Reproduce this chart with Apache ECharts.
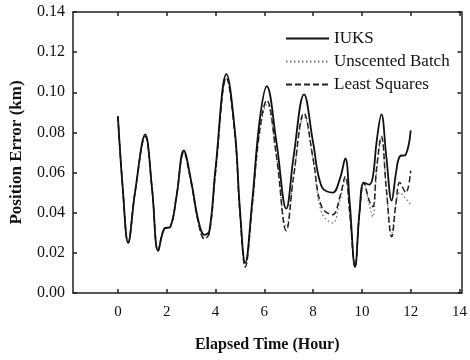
<!DOCTYPE html>
<html><head><meta charset="utf-8">
<script src="https://cdn.jsdelivr.net/npm/echarts@6/dist/echarts.min.js"></script>
<style>html,body{margin:0;padding:0;background:#fff}#c{width:470px;height:360px}</style>
</head><body><div id="c"></div>
<script>
const times = [0, 0.2, 0.42, 0.7, 1.12, 1.4, 1.65, 1.9, 2.15, 2.4, 2.7, 3.0, 3.3, 3.55, 3.75, 4.0, 4.45, 4.8, 5.0, 5.22, 5.5, 5.8, 6.1, 6.5, 6.9, 7.2, 7.63, 8.0, 8.35, 8.8, 9.1, 9.32, 9.5, 9.72, 9.9, 10.08, 10.3, 10.45, 10.6, 10.8, 11.0, 11.22, 11.4, 11.55, 11.8, 12.0];
const iuks = [0.088, 0.052, 0.025, 0.050, 0.079, 0.052, 0.021, 0.032, 0.033, 0.048, 0.071, 0.056, 0.036, 0.029, 0.031, 0.062, 0.109, 0.080, 0.042, 0.015, 0.045, 0.085, 0.103, 0.075, 0.042, 0.068, 0.099, 0.075, 0.053, 0.050, 0.057, 0.067, 0.045, 0.013, 0.040, 0.055, 0.054, 0.058, 0.075, 0.089, 0.068, 0.046, 0.060, 0.068, 0.069, 0.081];
const unscentedBatch = [0.088, 0.052, 0.025, 0.050, 0.078, 0.052, 0.021, 0.032, 0.033, 0.048, 0.070, 0.055, 0.035, 0.027, 0.030, 0.060, 0.107, 0.078, 0.040, 0.013, 0.043, 0.079, 0.094, 0.068, 0.033, 0.058, 0.088, 0.066, 0.040, 0.035, 0.046, 0.057, 0.040, 0.013, 0.040, 0.055, 0.044, 0.038, 0.060, 0.077, 0.052, 0.030, 0.045, 0.050, 0.047, 0.044];
const leastSquares = [0.088, 0.052, 0.025, 0.050, 0.078, 0.052, 0.021, 0.032, 0.033, 0.048, 0.070, 0.055, 0.035, 0.027, 0.030, 0.060, 0.107, 0.078, 0.040, 0.013, 0.043, 0.080, 0.096, 0.068, 0.031, 0.058, 0.0895, 0.067, 0.043, 0.039, 0.048, 0.058, 0.040, 0.013, 0.040, 0.055, 0.046, 0.043, 0.062, 0.078, 0.052, 0.028, 0.045, 0.055, 0.050, 0.061];
const xTicks = [0, 2, 4, 6, 8, 10, 12, 14];
const seriesNames = ['IUKS', 'Unscented Batch', 'Least Squares'];

const font = 'Liberation Serif';
const pair = (vals) => times.map((t, i) => [t, vals[i]]);
const axisLineStyle = {color: '#222', width: 1.5};

const chart = echarts.init(document.getElementById('c'), null, {renderer: 'canvas'});
chart.setOption({
  animation: false,
  backgroundColor: '#fff',
  grid: {left: 73, right: 7, top: 12, bottom: 67},
  legend: {
    orient: 'vertical', left: 280, top: 25, itemWidth: 43, itemHeight: 14, itemGap: 6,
    textStyle: {fontFamily: font, fontSize: 17, color: '#111'},
    itemStyle: {opacity: 0},
    data: seriesNames
  },
  xAxis: [{
    type: 'value', min: -1.84, max: 14.08,
    name: 'Elapsed Time (Hour)', nameLocation: 'middle', nameGap: 44,
    nameTextStyle: {fontFamily: font, fontSize: 16, fontWeight: 'bold', color: '#111'},
    axisLine: {show: true, onZero: false, lineStyle: axisLineStyle},
    axisTick: {show: true, inside: true, length: 4, customValues: xTicks, lineStyle: axisLineStyle},
    axisLabel: {customValues: xTicks, fontFamily: font, fontSize: 15, color: '#111', margin: 12},
    splitLine: {show: false}
  }, {
    type: 'value', min: -1.84, max: 14.08, position: 'top',
    axisLine: {show: true, onZero: false, lineStyle: axisLineStyle},
    axisTick: {show: true, inside: true, length: 4, customValues: xTicks, lineStyle: axisLineStyle},
    axisLabel: {show: false}, splitLine: {show: false}
  }],
  yAxis: [{
    type: 'value', min: 0, max: 0.14, interval: 0.02,
    name: 'Position Error (km)', nameLocation: 'middle', nameGap: 48, nameRotate: 90,
    nameTextStyle: {fontFamily: font, fontSize: 17, fontWeight: 'bold', color: '#111'},
    axisLine: {show: true, onZero: false, lineStyle: axisLineStyle},
    axisTick: {show: true, inside: true, length: 4, lineStyle: axisLineStyle},
    axisLabel: {formatter: v => v.toFixed(2), fontFamily: font, fontSize: 16, color: '#111', margin: 8},
    splitLine: {show: false}
  }, {
    type: 'value', min: 0, max: 0.14, interval: 0.02, position: 'right',
    axisLine: {show: true, onZero: false, lineStyle: axisLineStyle},
    axisTick: {show: true, inside: true, length: 4, lineStyle: axisLineStyle},
    axisLabel: {show: false}, splitLine: {show: false}
  }],
  series: [
    {name: seriesNames[0], type: 'line', data: pair(iuks), smooth: 0.4, symbol: 'none',
     lineStyle: {color: '#111', width: 1.8, type: 'solid'}, itemStyle: {color: '#111'}, z: 3},
    {name: seriesNames[1], type: 'line', data: pair(unscentedBatch), smooth: 0.4, symbol: 'none',
     lineStyle: {color: '#777', width: 1.3, type: [1.5, 2.5]}, itemStyle: {color: '#777'}, z: 2},
    {name: seriesNames[2], type: 'line', data: pair(leastSquares), smooth: 0.4, symbol: 'none',
     lineStyle: {color: '#222', width: 1.5, type: [6, 3]}, itemStyle: {color: '#222'}, z: 2}
  ]
});
</script></body></html>
